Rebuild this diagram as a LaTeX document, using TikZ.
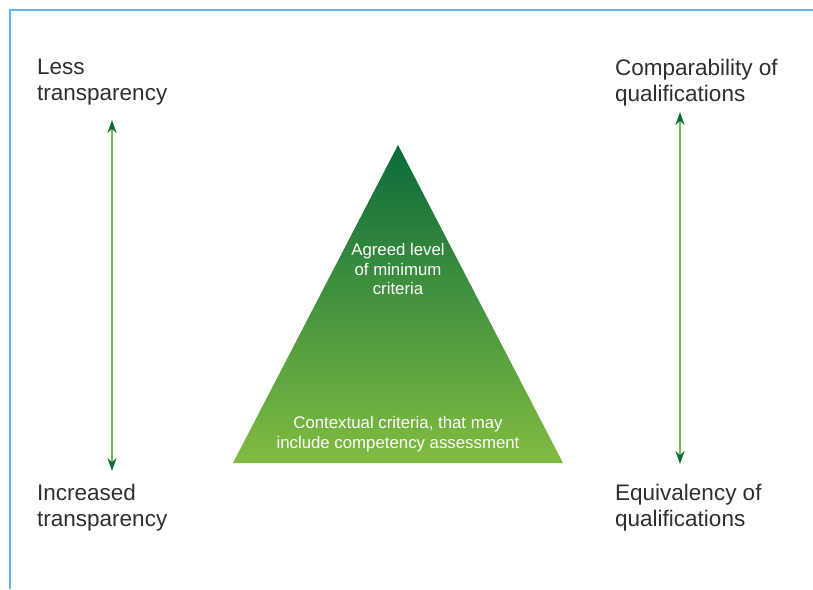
\documentclass[tikz,border=0pt]{standalone}
\usepackage{fontspec}
\setmainfont{Liberation Sans}
\usetikzlibrary{positioning, arrows.meta}

\definecolor{framebl}{HTML}{62B2E6}
\definecolor{darkgr}{HTML}{0B6B3B}
\definecolor{lightgr}{HTML}{80BC41}
\definecolor{shaftgr}{HTML}{6CBE45}
\definecolor{textgr}{HTML}{2E2E2E}

\begin{document}
\begin{tikzpicture}[
    x=1pt, y=-1pt,
    side/.style={anchor=north west, align=left, inner sep=0pt, text=textgr,
      font=\fontsize{22.5}{26}\selectfont},
    inside/.style={align=center, inner sep=0pt, text=white,
      font=\fontsize{16.8}{19.5}\selectfont},
    span/.style={draw=shaftgr, line width=2.4pt,
      {Stealth[length=13pt,width=9pt,color=darkgr]}-{Stealth[length=13pt,width=9pt,color=darkgr]}}
  ]
  \useasboundingbox (0,0) rectangle (813,589);
  % frame
  \draw[framebl, line width=1.5pt] (10,589) -- (10,10) -- (813,10);
  % pyramid
  \coordinate (apex) at (398,145);
  \coordinate (baseL) at (233,463);
  \coordinate (baseR) at (563,463);
  \shade[top color=darkgr, bottom color=lightgr] (apex) -- (baseR) -- (baseL) -- cycle;
  \node[inside] (agreed) at (398,269) {Agreed level\\of minimum\\criteria};
  \node[inside] (context) at (398,434) {Contextual criteria, that may\\include competency assessment};
  % labels
  \node[side] (less) at (37,59) {Less\\transparency};
  \node[side] (incr) at (37,484) {Increased\\transparency};
  \node[side] (compar) at (615,59) {Comparability of\\qualifications};
  \node[side] (equiv) at (615,484) {Equivalency of\\qualifications};
  % arrows
  \coordinate (lTop) at (112,120);
  \coordinate (lBot) at (112,471);
  \coordinate (rTop) at (680,112);
  \coordinate (rBot) at (680,464);
  \draw[span] (lTop) -- (lBot);
  \draw[span] (rTop) -- (rBot);
\end{tikzpicture}
\end{document}
